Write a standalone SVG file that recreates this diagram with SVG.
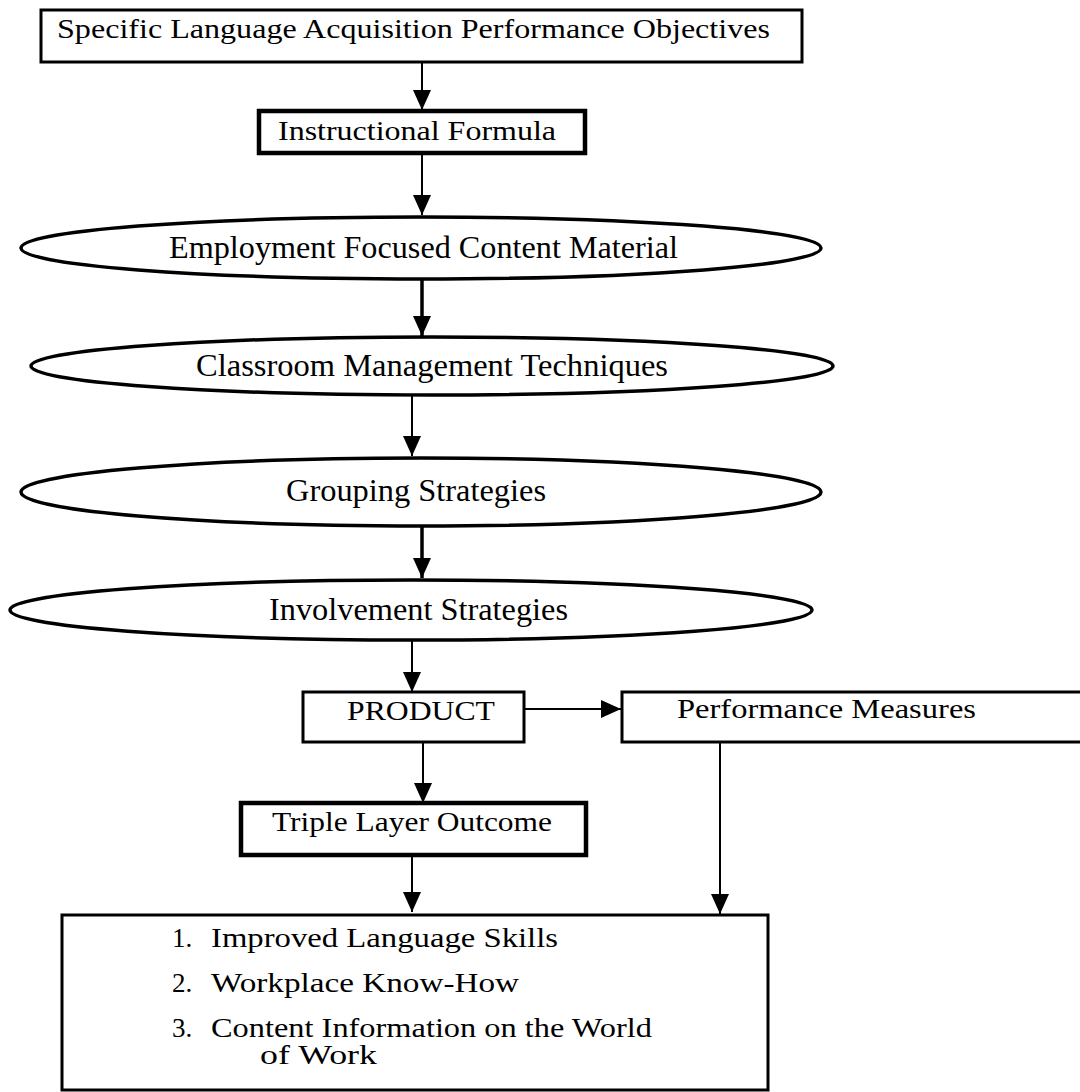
<svg xmlns="http://www.w3.org/2000/svg" width="1080" height="1092" viewBox="0 0 1080 1092">
<style>
  .box { fill: #fff; stroke: #000; stroke-width: 3; }
  .thick { stroke-width: 4.5; }
  .ell { fill: #fff; stroke: #000; stroke-width: 3.5; }
  .t { font-family: "Liberation Serif", "Times New Roman", serif; font-size: 27px; fill: #000; }
  .e { font-size: 32px; }
  .c { stroke: #000; fill: none; stroke-width: 2; }
  .c2 { stroke-width: 3.5; }
</style>
<defs>
  <marker id="ah" viewBox="0 0 20 18" refX="20" refY="9" markerWidth="21" markerHeight="18" markerUnits="userSpaceOnUse" orient="auto">
    <path d="M0,0 L20,9 L0,18 Z" fill="#000"/>
  </marker>
</defs>
<rect width="1080" height="1092" fill="#fff"/>

<g id="connectors">
  <path class="c" d="M422,62 V110" marker-end="url(#ah)"/>
  <path class="c" d="M422,153 V215" stroke-width="2.5" marker-end="url(#ah)"/>
  <path class="c c2" d="M422,280 V336" marker-end="url(#ah)"/>
  <path class="c" d="M412,396 V456" marker-end="url(#ah)"/>
  <path class="c c2" d="M422,527 V578" marker-end="url(#ah)"/>
  <path class="c" d="M412,640 V692" marker-end="url(#ah)"/>
  <path class="c" d="M524,709 H621" marker-end="url(#ah)"/>
  <path class="c" d="M423,742 V803" marker-end="url(#ah)"/>
  <path class="c" d="M412,855 V912" marker-end="url(#ah)"/>
  <path class="c" d="M720,742 V914" marker-end="url(#ah)"/>
</g>

<g id="objectives">
  <rect class="box" x="41" y="10" width="761" height="52"/>
  <text class="t" x="57" y="38" font-size="29" textLength="713" lengthAdjust="spacingAndGlyphs">Specific Language Acquisition Performance Objectives</text>
</g>

<g id="formula">
  <rect class="box thick" x="259" y="111" width="326" height="42"/>
  <text class="t" x="278" y="140" font-size="30" textLength="278" lengthAdjust="spacingAndGlyphs">Instructional Formula</text>
</g>

<g id="content">
  <ellipse class="ell" cx="421" cy="248" rx="400" ry="31"/>
  <text class="t e" x="169" y="258" textLength="509" lengthAdjust="spacingAndGlyphs">Employment Focused Content Material</text>
</g>

<g id="classroom">
  <ellipse class="ell" cx="432" cy="366" rx="401" ry="29"/>
  <text class="t e" x="196" y="376" textLength="472" lengthAdjust="spacingAndGlyphs">Classroom Management Techniques</text>
</g>

<g id="grouping">
  <ellipse class="ell" cx="421" cy="492" rx="400" ry="34"/>
  <text class="t e" x="286" y="501" textLength="260" lengthAdjust="spacingAndGlyphs">Grouping Strategies</text>
</g>

<g id="involvement">
  <ellipse class="ell" cx="411" cy="610" rx="401" ry="30"/>
  <text class="t e" x="269" y="620" textLength="299" lengthAdjust="spacingAndGlyphs">Involvement Strategies</text>
</g>

<g id="product">
  <rect class="box" x="303" y="692" width="221" height="50"/>
  <text class="t" x="347" y="720" textLength="148" lengthAdjust="spacingAndGlyphs">PRODUCT</text>
</g>

<g id="measures">
  <rect class="box" x="622" y="692" width="470" height="50"/>
  <text class="t" x="677" y="718" textLength="299" lengthAdjust="spacingAndGlyphs">Performance Measures</text>
</g>

<g id="outcome">
  <rect class="box thick" x="241" y="803" width="345" height="52"/>
  <text class="t" x="272" y="831" textLength="280" lengthAdjust="spacingAndGlyphs">Triple Layer Outcome</text>
</g>

<g id="results">
  <rect class="box" x="62" y="915" width="706" height="175" stroke-width="5"/>
  <text class="t" x="172" y="947">1.</text>
  <text class="t" x="211" y="947" textLength="347" lengthAdjust="spacingAndGlyphs">Improved Language Skills</text>
  <text class="t" x="172" y="992">2.</text>
  <text class="t" x="211" y="992" textLength="308" lengthAdjust="spacingAndGlyphs">Workplace Know-How</text>
  <text class="t" x="172" y="1037">3.</text>
  <text class="t" x="211" y="1037" textLength="441" lengthAdjust="spacingAndGlyphs">Content Information on the World</text>
  <text class="t" x="260" y="1064" textLength="117" lengthAdjust="spacingAndGlyphs">of Work</text>
</g>
</svg>
